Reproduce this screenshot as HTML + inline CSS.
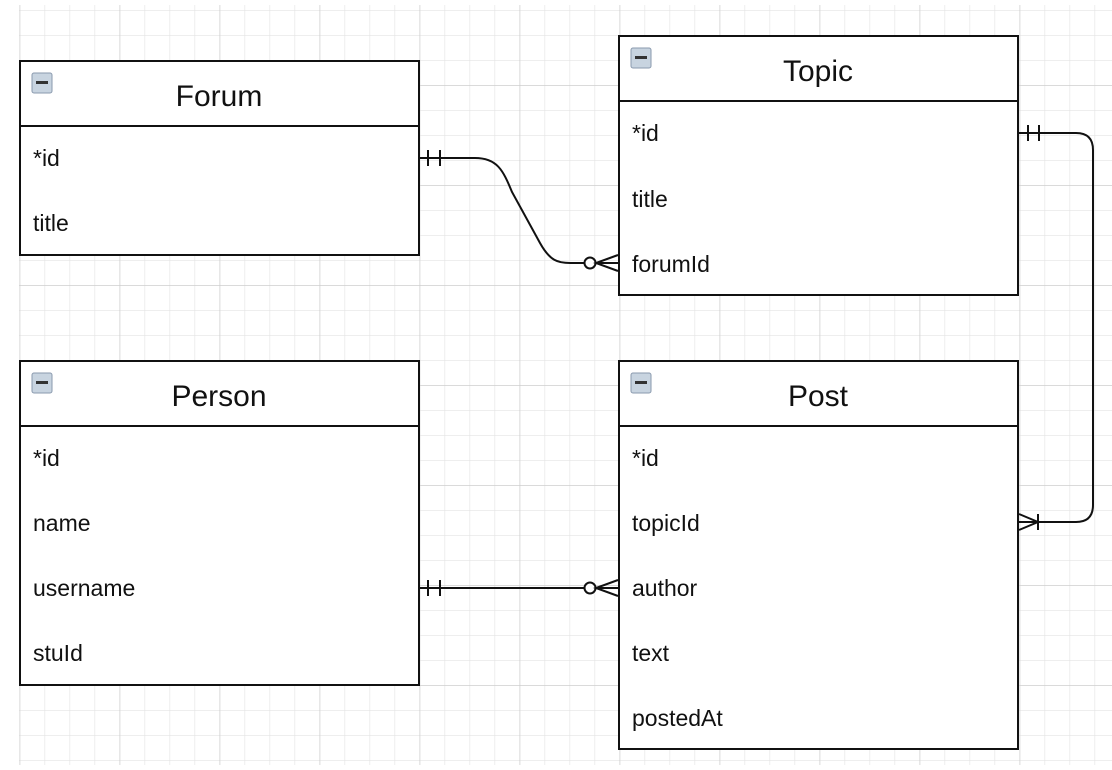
<!DOCTYPE html>
<html><head><meta charset="utf-8"><style>
html,body{margin:0;padding:0;background:#fff;}
svg{display:block;}
text{font-family:"Liberation Sans",Arial,sans-serif;fill:#111;}
</style></head><body>
<svg width="1112" height="770" viewBox="0 0 1112 770" xmlns="http://www.w3.org/2000/svg">
<defs>
<pattern id="minor" x="19.5" y="10" width="25" height="25" patternUnits="userSpaceOnUse">
<path d="M0 0V25M0 0H25" stroke="#e4e4e4" stroke-width="1.3" fill="none"/>
</pattern>
<pattern id="major" x="19.5" y="-15" width="100" height="100" patternUnits="userSpaceOnUse">
<path d="M0 0V100M0 0H100" stroke="#cfcfcf" stroke-width="1.5" fill="none"/>
</pattern>
</defs>
<rect x="19" y="5" width="1093" height="760" fill="url(#minor)"/>
<rect x="19" y="5" width="1093" height="760" fill="url(#major)"/>

<g stroke="#111" stroke-width="2" fill="#fff">
<rect x="20" y="61" width="399" height="194"/>
<line x1="20" y1="126" x2="419" y2="126"/>
<rect x="619" y="36" width="399" height="259"/>
<line x1="619" y1="101" x2="1018" y2="101"/>
<rect x="20" y="361" width="399" height="324"/>
<line x1="20" y1="426" x2="419" y2="426"/>
<rect x="619" y="361" width="399" height="388"/>
<line x1="619" y1="426" x2="1018" y2="426"/>
</g>

<g>
<rect x="32" y="73" width="20" height="20" rx="2" fill="#c8d4e0" stroke="#8a9aae"/>
<rect x="36" y="81" width="12" height="3" fill="#333"/>
<rect x="631" y="48" width="20" height="20" rx="2" fill="#c8d4e0" stroke="#8a9aae"/>
<rect x="635" y="56" width="12" height="3" fill="#333"/>
<rect x="32" y="373" width="20" height="20" rx="2" fill="#c8d4e0" stroke="#8a9aae"/>
<rect x="36" y="381" width="12" height="3" fill="#333"/>
<rect x="631" y="373" width="20" height="20" rx="2" fill="#c8d4e0" stroke="#8a9aae"/>
<rect x="635" y="381" width="12" height="3" fill="#333"/>
</g>

<g font-size="30" text-anchor="middle">
<text x="219" y="106">Forum</text>
<text x="818" y="81">Topic</text>
<text x="219" y="406">Person</text>
<text x="818" y="406">Post</text>
</g>
<g font-size="23">
<text x="33" y="166">*id</text>
<text x="33" y="231">title</text>
<text x="632" y="141">*id</text>
<text x="632" y="207">title</text>
<text x="632" y="272">forumId</text>
<text x="33" y="466">*id</text>
<text x="33" y="531">name</text>
<text x="33" y="596">username</text>
<text x="33" y="661">stuId</text>
<text x="632" y="466">*id</text>
<text x="632" y="531">topicId</text>
<text x="632" y="596">author</text>
<text x="632" y="661">text</text>
<text x="632" y="726">postedAt</text>
</g>

<g stroke="#111" stroke-width="2" fill="none">
<path d="M419 158 H475 C497 158 503 170 512 192 L540 243 C550 261 558 263 570 263 H585"/>
<line x1="428" y1="150" x2="428" y2="166"/>
<line x1="440" y1="150" x2="440" y2="166"/>
<circle cx="590" cy="263" r="5.5" fill="#fff"/>
<path d="M618 255 L596 263 L618 271 M596 263 H619"/>
<path d="M1018 133 H1076 Q1093 133 1093 150 V505 Q1093 522 1076 522 H1018"/>
<line x1="1028" y1="125" x2="1028" y2="141"/>
<line x1="1039" y1="125" x2="1039" y2="141"/>
<path d="M1019 514 L1038 522 L1019 530"/>
<line x1="1038" y1="514" x2="1038" y2="530"/>
<path d="M419 588 H584"/>
<line x1="428" y1="580" x2="428" y2="596"/>
<line x1="440" y1="580" x2="440" y2="596"/>
<circle cx="590" cy="588" r="5.5" fill="#fff"/>
<path d="M618 580 L596 588 L618 596 M596 588 H619"/>
</g>
</svg>
</body></html>
